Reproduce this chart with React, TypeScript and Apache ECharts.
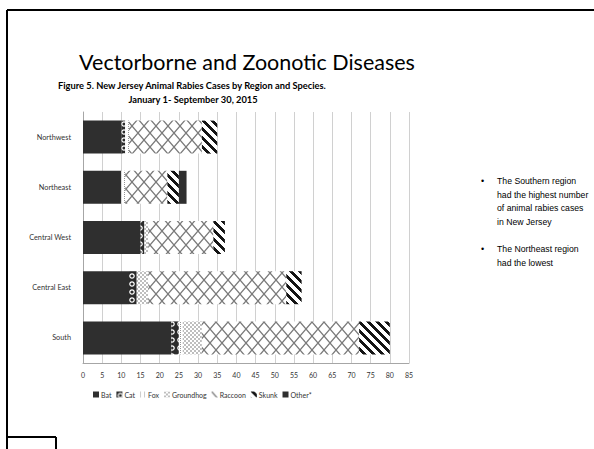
import React, { useEffect, useRef } from "react";
import * as echarts from "echarts";

const regions = ["Northwest", "Northeast", "Central West", "Central East", "South"];
const speciesNames = ["Bat", "Cat", "Fox", "Groundhog", "Raccoon", "Skunk", "Other*"];
const bat = [10, 10, 15, 12, 23];
const cat = [1, 0, 1, 2, 2];
const fox = [1, 1, 0, 0, 1];
const groundhog = [0, 0, 1, 3, 5];
const raccoon = [19, 11, 17, 36, 41];
const skunk = [4, 3, 3, 4, 8];
const other = [0, 2, 0, 0, 0];
const xMin = 0;
const xMax = 85;
const xStep = 5;
const titleText = "Vectorborne and Zoonotic Diseases";
const subtitle1 = "Figure 5. New Jersey Animal Rabies Cases by Region and Species.";
const subtitle2 = "January 1- September 30, 2015";
const bullets = [
  ["The Southern region", "had the highest number", "of animal rabies cases", "in New Jersey"],
  ["The Northeast region", "had the lowest"],
];

function pixelCanvas(w: number, h: number, fn: (x: number, y: number) => [number, number, number]) {
  const c = document.createElement("canvas");
  c.width = w;
  c.height = h;
  const ctx = c.getContext("2d")!;
  const img = ctx.createImageData(w, h);
  for (let y = 0; y < h; y++) {
    for (let x = 0; x < w; x++) {
      const [r, g, b] = fn(x, y);
      const i = (y * w + x) * 4;
      img.data[i] = r;
      img.data[i + 1] = g;
      img.data[i + 2] = b;
      img.data[i + 3] = 255;
    }
  }
  ctx.putImageData(img, 0, 0);
  return c;
}

function drawCanvas(w: number, h: number, fn: (ctx: CanvasRenderingContext2D) => void) {
  const c = document.createElement("canvas");
  c.width = w;
  c.height = h;
  const ctx = c.getContext("2d")!;
  fn(ctx);
  return c;
}

function makePatterns() {
  const white: [number, number, number] = [255, 255, 255];
  const catC = drawCanvas(8, 8, (ctx) => {
    ctx.fillStyle = "#2b2b2b";
    ctx.fillRect(0, 0, 8, 8);
    ctx.strokeStyle = "#ffffff";
    ctx.lineWidth = 1.2;
    ctx.beginPath();
    ctx.arc(4, 4, 2.2, 0, Math.PI * 2);
    ctx.stroke();
  });
  const foxC = pixelCanvas(4, 4, (x, y) => ((x === 0 && y % 2 === 0) ? [150, 150, 150] : white));
  const groundC = pixelCanvas(4, 4, (x, y) => ((Math.floor(x / 2) + Math.floor(y / 2)) % 2 === 0 ? [190, 190, 190] : white));
  const raccoonC = drawCanvas(12, 14, (ctx) => {
    ctx.fillStyle = "#ffffff";
    ctx.fillRect(0, 0, 12, 14);
    ctx.strokeStyle = "#7a7a7a";
    ctx.lineWidth = 1.3;
    ctx.beginPath();
    ctx.moveTo(0, 0);
    ctx.lineTo(12, 14);
    ctx.moveTo(12, 0);
    ctx.lineTo(0, 14);
    ctx.stroke();
  });
  const skunkC = pixelCanvas(9, 9, (x, y) => ((((x - y) % 9) + 9) % 9 < 4 ? [20, 20, 20] : white));
  return {
    cat: { image: catC, repeat: "repeat" },
    fox: { image: foxC, repeat: "repeat" },
    groundhog: { image: groundC, repeat: "repeat" },
    raccoon: { image: raccoonC, repeat: "repeat" },
    skunk: { image: skunkC, repeat: "repeat" },
  };
}

export default function App() {
  const ref = useRef<HTMLDivElement>(null);
  useEffect(() => {
    document.body.style.margin = "0";
    const chart = echarts.init(ref.current!, null, { renderer: "svg" });
    const p = makePatterns();
    const seriesData = [bat, cat, fox, groundhog, raccoon, skunk, other];
    const colors: any[] = ["#2f2f2f", p.cat, p.fox, p.groundhog, p.raccoon, p.skunk, "#2f2f2f"];
    const series = speciesNames.map((name, i) => ({
      name,
      type: "bar",
      stack: "total",
      barWidth: 33,
      data: seriesData[i],
      itemStyle: { color: colors[i] },
      emphasis: { disabled: true },
    }));
    const font = "Lato, 'Open Sans', sans-serif";
    const labelColor = "#333333";
    const graphics: any[] = [
      { type: "line", shape: { x1: 7, y1: 10, x2: 594, y2: 10 }, style: { stroke: "#000", lineWidth: 2 } },
      { type: "line", shape: { x1: 7, y1: 10, x2: 7, y2: 449 }, style: { stroke: "#000", lineWidth: 2 } },
      { type: "line", shape: { x1: 7, y1: 437, x2: 56, y2: 437 }, style: { stroke: "#000", lineWidth: 2 } },
      { type: "line", shape: { x1: 56, y1: 437, x2: 56, y2: 449 }, style: { stroke: "#000", lineWidth: 2 } },
      {
        type: "text",
        x: 247,
        y: 62,
        style: { text: titleText, fontSize: 21.5, fontFamily: font, fill: "#000", align: "center", verticalAlign: "middle" },
      },
      {
        type: "text",
        x: 58,
        y: 85,
        style: { text: subtitle1, fontSize: 9.3, fontWeight: "bold", fontFamily: font, fill: "#000", align: "left", verticalAlign: "middle" },
      },
      {
        type: "text",
        x: 193,
        y: 99,
        style: { text: subtitle2, fontSize: 9.3, fontWeight: "bold", fontFamily: font, fill: "#000", align: "center", verticalAlign: "middle" },
      },
    ];
    let y = 181;
    bullets.forEach((group) => {
      graphics.push({
        type: "text",
        x: 481,
        y,
        style: { text: "\u2022", fontSize: 9, fontFamily: "'Liberation Sans', Arial, sans-serif", fill: "#000", verticalAlign: "middle" },
      });
      group.forEach((line) => {
        graphics.push({
          type: "text",
          x: 497,
          y,
          style: { text: line, fontSize: 8.7, fontFamily: "'Liberation Sans', Arial, sans-serif", fill: "#000", verticalAlign: "middle" },
        });
        y += 13.5;
      });
      y += 14;
    });
    chart.setOption({
      animation: false,
      backgroundColor: "#ffffff",
      textStyle: { color: labelColor, fontFamily: font },
      grid: { left: 83, right: 185, top: 112, bottom: 86, containLabel: false },
      xAxis: {
        type: "value",
        min: xMin,
        max: xMax,
        interval: xStep,
        axisLine: { show: true, lineStyle: { color: "#a6a6a6" } },
        axisTick: { show: false },
        splitLine: { show: true, lineStyle: { color: "#d0d0d0", width: 1 } },
        axisLabel: { fontSize: 7, color: labelColor, fontFamily: font, margin: 8 },
      },
      yAxis: {
        type: "category",
        data: regions,
        inverse: true,
        axisLine: { show: true, lineStyle: { color: "#a6a6a6" } },
        axisTick: { show: false },
        axisLabel: { fontSize: 7.3, color: labelColor, fontFamily: font, margin: 12 },
      },
      legend: {
        data: speciesNames,
        left: 88,
        top: 386,
        icon: "rect",
        itemWidth: 6,
        itemHeight: 6,
        itemGap: 5,
        textStyle: { fontSize: 7, color: labelColor, fontFamily: font, padding: [0, 0, 0, -3] },
        selectedMode: false,
      },
      series,
      graphic: graphics,
    });
    return () => chart.dispose();
  }, []);
  return <div ref={ref} style={{ position: "absolute", left: 0, top: 0, width: 594, height: 449 }} />;
}
